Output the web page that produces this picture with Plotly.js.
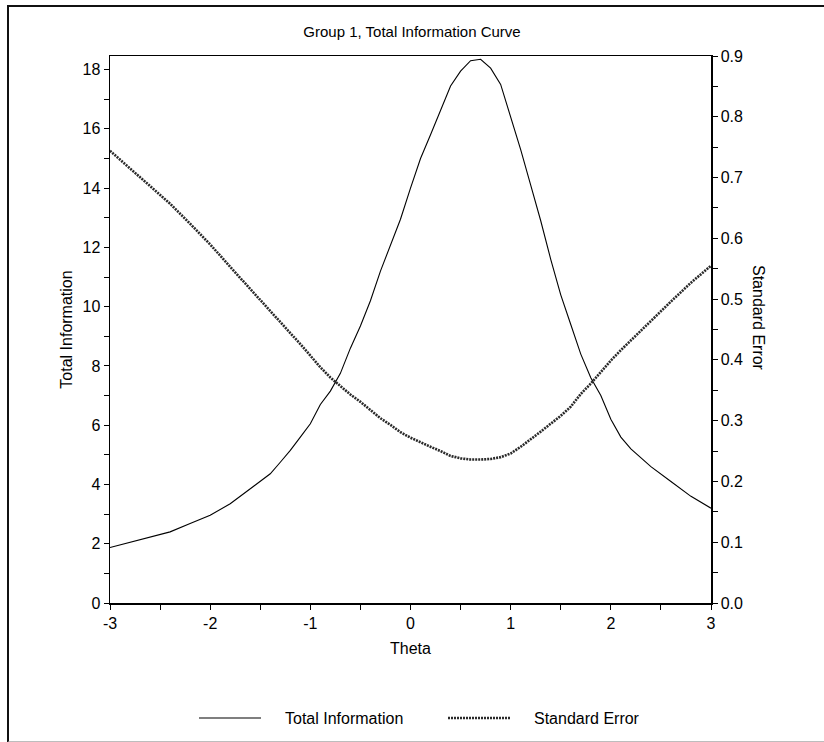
<!DOCTYPE html>
<html>
<head>
<meta charset="utf-8">
<script src="https://cdn.plot.ly/plotly-3.0.1.min.js"></script>
<style>
  html, body { margin: 0; padding: 0; background: #fff; overflow: hidden; }
  #wrap { position: relative; width: 824px; height: 742px; overflow: hidden; }
  #chart { width: 824px; height: 742px; }
  #frame { position: absolute; left: 7px; top: 5px; width: 830px; height: 734px;
           border-left: 2px solid #111; border-top: 2px solid #111; border-bottom: 2px solid #bdbdbd;
           pointer-events: none; }
</style>
</head>
<body>
<div id="wrap">
  <div id="chart"></div>
  <div id="frame"></div>
</div>
<script>
const theta = [-3, -2.8, -2.6, -2.4, -2.2, -2.0, -1.8, -1.6, -1.4, -1.3, -1.2, -1.1, -1.0, -0.9, -0.8, -0.7,
  -0.6, -0.5, -0.4, -0.3, -0.2, -0.1, 0, 0.1, 0.2, 0.3, 0.4, 0.5, 0.6, 0.7, 0.8, 0.9, 1.0, 1.1, 1.2, 1.3,
  1.4, 1.5, 1.6, 1.7, 1.8, 1.9, 2.0, 2.1, 2.2, 2.4, 2.6, 2.8, 3.0];

const totalInformation = [1.87, 2.05, 2.22, 2.40, 2.68, 2.96, 3.35, 3.86, 4.36, 4.75, 5.15, 5.6, 6.05, 6.7,
  7.15, 7.75, 8.6, 9.35, 10.2, 11.2, 12.1, 12.95, 14.0, 15.0, 15.8, 16.6, 17.45, 17.95, 18.3, 18.35, 18.05,
  17.5, 16.4, 15.3, 14.1, 12.9, 11.6, 10.4, 9.4, 8.4, 7.6, 7.0, 6.2, 5.6, 5.2, 4.6, 4.1, 3.6, 3.2];

const standardError = [0.744, 0.715, 0.687, 0.657, 0.624, 0.590, 0.553, 0.517, 0.480, 0.462, 0.444, 0.426,
  0.407, 0.388, 0.371, 0.357, 0.343, 0.331, 0.317, 0.304, 0.293, 0.281, 0.272, 0.264, 0.257, 0.250, 0.242,
  0.238, 0.236, 0.236, 0.237, 0.240, 0.246, 0.257, 0.269, 0.282, 0.295, 0.308, 0.323, 0.344, 0.361, 0.380,
  0.399, 0.416, 0.432, 0.465, 0.496, 0.527, 0.555];

const seriesNames = ['Total Information', 'Standard Error'];
const xTicks = [-3, -2, -1, 0, 1, 2, 3];
const yTicks = [0, 2, 4, 6, 8, 10, 12, 14, 16, 18];
const y2Ticks = [0, 0.1, 0.2, 0.3, 0.4, 0.5, 0.6, 0.7, 0.8, 0.9];

const FONT = 'Liberation Sans, Arial, sans-serif';
const INFO_LINE = { color: '#000', width: 1.1 };
const SE_LINE = { color: '#2a2a2a', width: 2.6, dash: '2px,1px' };

// plot area in pixels: x 110..711, y 56..603
const L = 110, R = 711, T = 56, B = 603;
const px2x = p => (p - L) / (R - L);
const px2y = p => (B - p) / (B - T);

const traces = [
  { x: theta, y: totalInformation, name: seriesNames[0], type: 'scatter', mode: 'lines',
    line: INFO_LINE, yaxis: 'y', showlegend: false },
  { x: theta, y: standardError, name: seriesNames[1], type: 'scatter', mode: 'lines',
    line: SE_LINE, yaxis: 'y2', showlegend: false }
];

const axisCommon = {
  showline: true, linecolor: '#000', linewidth: 1.5, showgrid: false, zeroline: false,
  ticks: 'outside', ticklen: 5, tickcolor: '#000', tickwidth: 1,
  tickfont: { family: FONT, size: 16, color: '#000' }, automargin: false
};

const legendY = px2y(718);
const layout = {
  width: 824, height: 742,
  paper_bgcolor: '#fff', plot_bgcolor: '#fff',
  margin: { l: L, r: 824 - R, t: T, b: 742 - B, autoexpand: false },
  font: { family: FONT, color: '#000' },
  title: {
    text: 'Group 1, Total Information Curve',
    font: { family: FONT, size: 15, color: '#000' },
    x: 0.5, xanchor: 'center', yref: 'container', y: 1 - 32 / 742, yanchor: 'middle'
  },
  xaxis: Object.assign({}, axisCommon, {
    range: [-3, 3], tickvals: xTicks, ticktext: xTicks.map(String),
    minor: { dtick: 0.5, tick0: -3, ticks: 'outside', ticklen: 5, tickcolor: '#000' },
    mirror: true,
    title: { text: 'Theta', font: { family: FONT, size: 16, color: '#000' }, standoff: 12 }
  }),
  yaxis: Object.assign({}, axisCommon, {
    range: [0, 18.46], tickvals: yTicks, ticktext: yTicks.map(String),
    minor: { dtick: 1, tick0: 0, ticks: 'outside', ticklen: 5, tickcolor: '#000' },
    title: { text: 'Total Information', font: { family: FONT, size: 16, color: '#000' }, standoff: 6 }
  }),
  yaxis2: Object.assign({}, axisCommon, {
    overlaying: 'y', side: 'right',
    range: [0, 0.9], tickvals: y2Ticks, ticktext: y2Ticks.map(v => v.toFixed(1)),
    minor: { dtick: 0.05, tick0: 0, ticks: 'outside', ticklen: 5, tickcolor: '#000' }
  }),
  annotations: [
    { text: 'Standard Error', textangle: 90, showarrow: false,
      xref: 'paper', yref: 'paper', x: px2x(759), y: px2y(318),
      xanchor: 'center', yanchor: 'middle', font: { family: FONT, size: 16, color: '#000' } },
    { text: seriesNames[0], showarrow: false, xref: 'paper', yref: 'paper',
      x: px2x(283), y: legendY, xanchor: 'left', yanchor: 'middle',
      font: { family: FONT, size: 16, color: '#000' } },
    { text: seriesNames[1], showarrow: false, xref: 'paper', yref: 'paper',
      x: px2x(532), y: legendY, xanchor: 'left', yanchor: 'middle',
      font: { family: FONT, size: 16, color: '#000' } }
  ],
  shapes: [
    { type: 'line', xref: 'paper', yref: 'paper', x0: px2x(199), x1: px2x(261), y0: legendY, y1: legendY,
      line: INFO_LINE },
    { type: 'line', xref: 'paper', yref: 'paper', x0: px2x(448), x1: px2x(511), y0: legendY, y1: legendY,
      line: SE_LINE }
  ],
  showlegend: false
};

Plotly.newPlot('chart', traces, layout, { displayModeBar: false, staticPlot: true });
</script>
</body>
</html>
